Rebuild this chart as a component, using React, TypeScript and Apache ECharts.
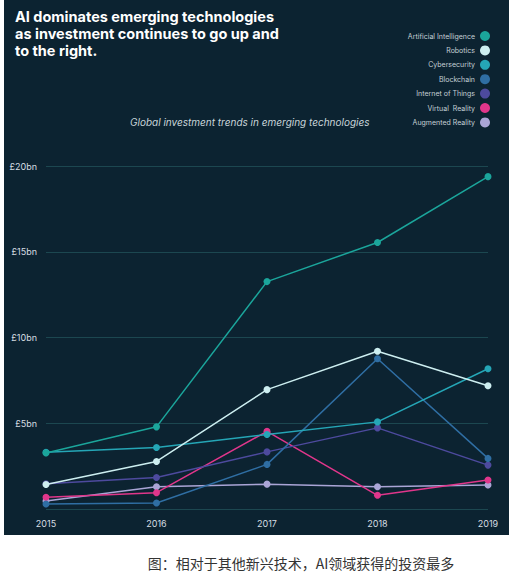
import React, { useEffect, useRef } from "react";
import * as echarts from "echarts";

const years = ["2015", "2016", "2017", "2018", "2019"];
const seriesNames = [
  "Artificial Intelligence",
  "Robotics",
  "Cybersecurity",
  "Blockchain",
  "Internet of Things",
  "Virtual  Reality",
  "Augmented Reality",
];
const aiValues = [3.27, 4.79, 13.26, 15.54, 19.38];
const roboticsValues = [1.43, 2.77, 6.96, 9.2, 7.19];
const cyberValues = [3.31, 3.59, 4.34, 5.08, 8.18];
const blockchainValues = [0.29, 0.35, 2.6, 8.76, 2.95];
const iotValues = [1.47, 1.84, 3.33, 4.73, 2.56];
const vrValues = [0.68, 0.95, 4.53, 0.8, 1.69];
const arValues = [0.47, 1.3, 1.45, 1.3, 1.4];
const yTicks = [0, 5, 10, 15, 20];
const colors = ["#1ba59b", "#cdeef0", "#25a6b6", "#2f6ea3", "#4d4a9e", "#e0368b", "#aaa5d6"];

const titleLines = [
  "AI dominates emerging technologies",
  "as investment continues to go up and",
  "to the right.",
];
const subtitleText = "Global investment trends in emerging technologies";
const captionText = "图：相对于其他新兴技术，AI领域获得的投资最多";

export default function App() {
  const ref = useRef<HTMLDivElement>(null);
  useEffect(() => {
    if (!ref.current) return;
    const chart = echarts.init(ref.current, null, { renderer: "svg" });
    const allValues = [aiValues, roboticsValues, cyberValues, blockchainValues, iotValues, vrValues, arValues];
    const font = "Inter, 'Noto Sans', sans-serif";
    chart.setOption({
      animation: false,
      backgroundColor: "#ffffff",
      color: colors,
      graphic: [
        {
          type: "rect",
          z: -10,
          silent: true,
          shape: { x: 4, y: 0, width: 505, height: 535 },
          style: { fill: "#0c2331" },
        },
        ...titleLines.map((t, i) => ({
          type: "text",
          x: 15,
          y: 16 + i * 17,
          style: {
            text: t,
            fill: "#ffffff",
            font: "bold 14.5px Inter, 'Noto Sans', sans-serif",
            verticalAlign: "middle",
          },
        })),
        {
          type: "text",
          x: 301,
          y: 563,
          style: {
            text: captionText,
            fill: "#333333",
            font: "14px 'Noto Sans CJK SC', sans-serif",
            align: "center",
            verticalAlign: "middle",
          },
        },
      ],
      title: [
        {
          text: subtitleText,
          left: 125,
          top: 112,
          textStyle: {
            color: "#c9d5da",
            fontSize: 10,
            fontStyle: "italic",
            fontWeight: "normal",
            fontFamily: font,
          },
        },
      ],
      legend: {
        orient: "vertical",
        align: "right",
        right: 25,
        top: 26,
        icon: "circle",
        itemWidth: 10,
        itemHeight: 10,
        itemGap: 4.4,
        textStyle: { color: "#c5d0d6", fontSize: 7, fontFamily: font },
        data: seriesNames,
      },
      grid: { left: 46, right: 32, top: 166, bottom: 77, containLabel: false },
      xAxis: {
        type: "category",
        data: years,
        boundaryGap: false,
        axisLine: { show: false },
        axisTick: { show: false },
        axisLabel: { color: "#d6dee2", fontSize: 9, margin: 10, fontFamily: font },
        splitLine: { show: false },
      },
      yAxis: {
        type: "value",
        min: yTicks[0],
        max: yTicks[yTicks.length - 1],
        interval: 5,
        axisLine: { show: false },
        axisTick: { show: false },
        axisLabel: {
          color: "#d6dee2",
          fontSize: 9,
          margin: 9,
          fontFamily: font,
          formatter: (v: number) => (v === 0 ? "" : "£" + v + "bn"),
        },
        splitLine: { lineStyle: { color: "#1c4750", width: 1 } },
      },
      series: seriesNames.map((name, i) => ({
        name,
        type: "line",
        data: allValues[i],
        symbol: "circle",
        symbolSize: 7,
        lineStyle: { width: 1.5, color: colors[i] },
        itemStyle: { color: colors[i] },
        z: 10 - i,
      })),
    });
    return () => chart.dispose();
  }, []);
  return (
    <div
      ref={ref}
      style={{ position: "absolute", left: 0, top: 0, width: 520, height: 586 }}
    />
  );
}
